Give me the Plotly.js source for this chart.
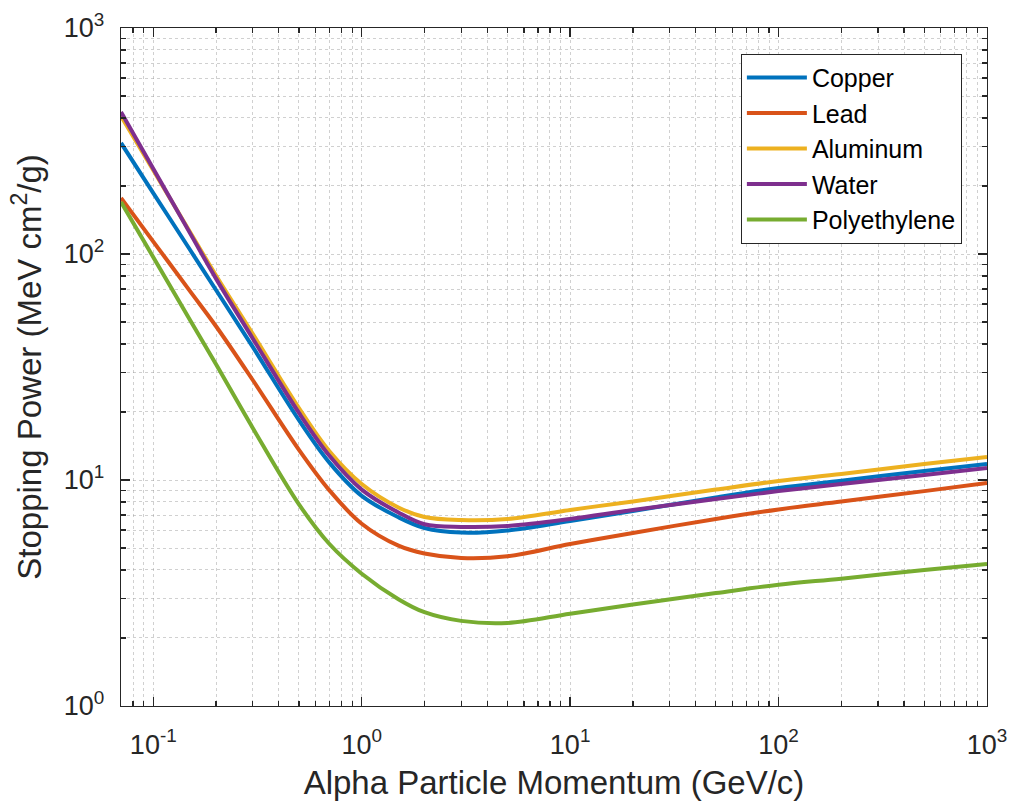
<!DOCTYPE html>
<html>
<head>
<meta charset="utf-8">
<script src="https://cdn.plot.ly/plotly-3.0.1.min.js"></script>
<style>html,body{margin:0;padding:0;background:#fff;}#chart{width:1013px;height:804px;}</style>
</head>
<body>
<div id="chart"></div>
<script>
// Alpha particle momentum (GeV/c)
const momentum = [0.07, 0.1, 0.15, 0.2, 0.3, 0.5, 0.7, 1, 1.5, 2, 3, 5, 10, 20, 50, 100, 200, 500, 1000];
// Stopping power (MeV cm^2/g)
const copper       = [310, 186, 104.4, 69.3, 38.8, 18.4, 11.94, 8.51, 6.84, 6.13, 5.85, 5.98, 6.59, 7.29, 8.38, 9.22, 9.93, 10.96, 11.77];
const lead         = [177, 113.5, 68.5, 47.9, 27.7, 13.6, 9.0, 6.4, 5.12, 4.73, 4.52, 4.60, 5.21, 5.83, 6.72, 7.41, 8.03, 8.93, 9.70];
const aluminum     = [408, 234.8, 125.2, 80.3, 44.3, 20.8, 13.4, 9.60, 7.56, 6.86, 6.65, 6.72, 7.37, 8.04, 9.07, 9.90, 10.63, 11.77, 12.64];
const water        = [425, 238.5, 123.7, 77.8, 42.3, 19.8, 12.8, 9.07, 7.18, 6.37, 6.20, 6.26, 6.72, 7.37, 8.24, 8.93, 9.60, 10.52, 11.30];
const polyethylene = [170, 96.8, 51.1, 32.5, 17.0, 7.8, 5.21, 3.85, 2.97, 2.60, 2.38, 2.33, 2.56, 2.81, 3.16, 3.44, 3.66, 4.00, 4.25];

const seriesNames = ['Copper', 'Lead', 'Aluminum', 'Water', 'Polyethylene'];
const seriesData = [copper, lead, aluminum, water, polyethylene];
const colors = ['#0072BD', '#D95319', '#EDB120', '#7E2F8E', '#77AC30'];

const xTickVals = [0.1, 1, 10, 100, 1000];
const xTickText = ['10<sup>-1</sup>', '10<sup>0</sup>', '10<sup>1</sup>', '10<sup>2</sup>', '10<sup>3</sup>'];
const yTickVals = [1, 10, 100, 1000];
const yTickText = ['10<sup>0</sup>', '10<sup>1</sup>', '10<sup>2</sup>', '10<sup>3</sup>'];

// minor tick positions: 2..9 within each decade
function minorTicks(e0, e1) {
  const out = [];
  for (let e = e0; e <= e1; e++) for (let d = 2; d <= 9; d++) out.push(d * Math.pow(10, e));
  return out;
}

const traces = seriesNames.map((n, i) => ({
  x: momentum, y: seriesData[i], name: n, type: 'scatter', mode: 'lines',
  line: {color: colors[i], width: 4, shape: 'spline', smoothing: 1}
}));

const fontFam = '"Liberation Sans", Arial, Helvetica, sans-serif';
const gridCol = 'rgba(150,150,150,0.45)';
function axisCommon(minorVals) {
  return {
    type: 'log', showline: true, linecolor: '#262626', linewidth: 1.3, mirror: 'allticks',
    ticks: 'inside', ticklen: 9, tickwidth: 1.3, tickcolor: '#262626',
    showgrid: true, gridcolor: gridCol, griddash: 'dot', gridwidth: 1,
    zeroline: false, tickfont: {family: fontFam, size: 27, color: '#262626'},
    minor: {tickmode: 'array', tickvals: minorVals, ticks: 'inside', ticklen: 5, tickwidth: 1.3,
            tickcolor: '#262626', showgrid: true, gridcolor: gridCol, griddash: 'dot', gridwidth: 1},
    automargin: false
  };
}

const layout = {
  width: 1013, height: 804,
  margin: {l: 121, r: 26, t: 28, b: 98},
  paper_bgcolor: '#fff', plot_bgcolor: '#fff',
  showlegend: true,
  legend: {
    x: 0.971, xanchor: 'right', y: 0.962, yanchor: 'top',
    bgcolor: '#fff', bordercolor: '#262626', borderwidth: 1,
    font: {family: fontFam, size: 25, color: '#000'},
    tracegroupgap: 0, itemwidth: 60
  },
  xaxis: Object.assign(axisCommon(minorTicks(-2, 2)), {
    range: [Math.log10(0.07), 3],
    tickvals: xTickVals, ticktext: xTickText, ticklabelstandoff: 14,
    title: {text: 'Alpha Particle Momentum (GeV/c)', font: {family: fontFam, size: 33, color: '#262626'}, standoff: 12}
  }),
  yaxis: Object.assign(axisCommon(minorTicks(0, 2)), {
    range: [0, 3],
    tickvals: yTickVals, ticktext: yTickText, ticklabelstandoff: 10,
    title: {text: 'Stopping Power (MeV cm<sup>2</sup>/g)', font: {family: fontFam, size: 33, color: '#262626'}, standoff: 12}
  })
};

Plotly.newPlot('chart', traces, layout, {displayModeBar: false, staticPlot: true}).then(() => {
  document.querySelectorAll('#chart .legendlines path').forEach(p => p.setAttribute('d', 'M5,0h60'));
});
</script>
</body>
</html>
